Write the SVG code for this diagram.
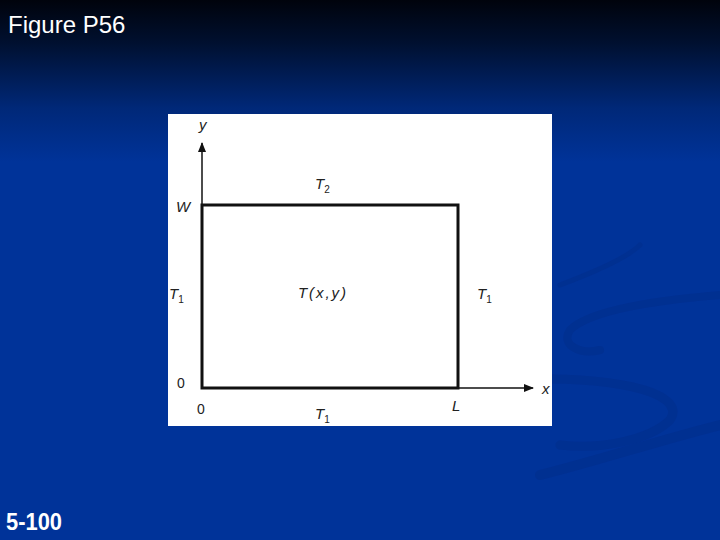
<svg xmlns="http://www.w3.org/2000/svg" width="720" height="540" viewBox="0 0 720 540">
<defs>
<linearGradient id="bg" x1="0" y1="0" x2="0" y2="1">
<stop offset="0" stop-color="#00030c"/>
<stop offset="0.08" stop-color="#001030"/>
<stop offset="0.2" stop-color="#002878"/>
<stop offset="0.3" stop-color="#003399"/>
<stop offset="1" stop-color="#003399"/>
</linearGradient>
<marker id="arr" markerWidth="10" markerHeight="8" refX="9" refY="4" orient="auto" markerUnits="userSpaceOnUse">
<path d="M0,0 L10,4 L0,8 Z" fill="#111"/>
</marker>
<style>
.t{font-family:"Liberation Sans",Arial,sans-serif;font-style:italic;font-size:15px;fill:#222}
.n{font-family:"Liberation Sans",Arial,sans-serif;font-size:14px;fill:#222}
.sub{font-size:10px;font-style:normal}
.ax{stroke:#111;stroke-width:1.5;fill:none}
.sw{fill:none;stroke:#002f8e;stroke-linecap:round}
</style>
</defs>
<rect width="720" height="540" fill="url(#bg)"/>
<g id="swirls" opacity="0.7">
<path class="sw" stroke-width="8" d="M720,295 C660,300 590,310 570,330 C560,345 580,355 600,350"/>
<path class="sw" stroke-width="9" d="M520,380 C600,375 690,390 670,420 C650,440 600,450 560,445"/>
<path class="sw" stroke-width="10" d="M540,475 C600,460 660,440 720,425"/>
<path class="sw" stroke-width="5" d="M560,285 C600,270 630,255 640,245"/>
</g>
<text x="8" y="33" font-family="'Liberation Sans',Arial,sans-serif" font-size="24" fill="#ffffff">Figure P56</text>
<text x="6" y="530" font-family="'Liberation Sans',Arial,sans-serif" font-size="24" font-weight="bold" fill="#ffffff" textLength="56" lengthAdjust="spacingAndGlyphs">5-100</text>
<rect x="168" y="114" width="384" height="312" fill="#ffffff"/>
<g id="connectors">
<line class="ax" x1="202" y1="388" x2="202" y2="143" marker-end="url(#arr)"/>
<line class="ax" x1="458" y1="388" x2="533" y2="388" marker-end="url(#arr)"/>
</g>
<g id="plate">
<rect x="202" y="205" width="256" height="183" fill="none" stroke="#111" stroke-width="3"/>
</g>
<g id="labels">
<text class="t" x="199" y="130">y</text>
<text class="t" x="315" y="189">T<tspan class="sub" dy="4">2</tspan></text>
<text class="t" x="176" y="212">W</text>
<text class="t" x="169" y="299">T<tspan class="sub" dy="4">1</tspan></text>
<text class="t" x="298" y="298" textLength="48" lengthAdjust="spacing">T(x,y)</text>
<text class="t" x="477" y="299">T<tspan class="sub" dy="4">1</tspan></text>
<text class="n" x="177" y="388">0</text>
<text class="n" x="197" y="414">0</text>
<text class="t" x="452" y="411">L</text>
<text class="t" x="315" y="419">T<tspan class="sub" dy="4">1</tspan></text>
<text class="t" x="542" y="394">x</text>
</g>
</svg>
